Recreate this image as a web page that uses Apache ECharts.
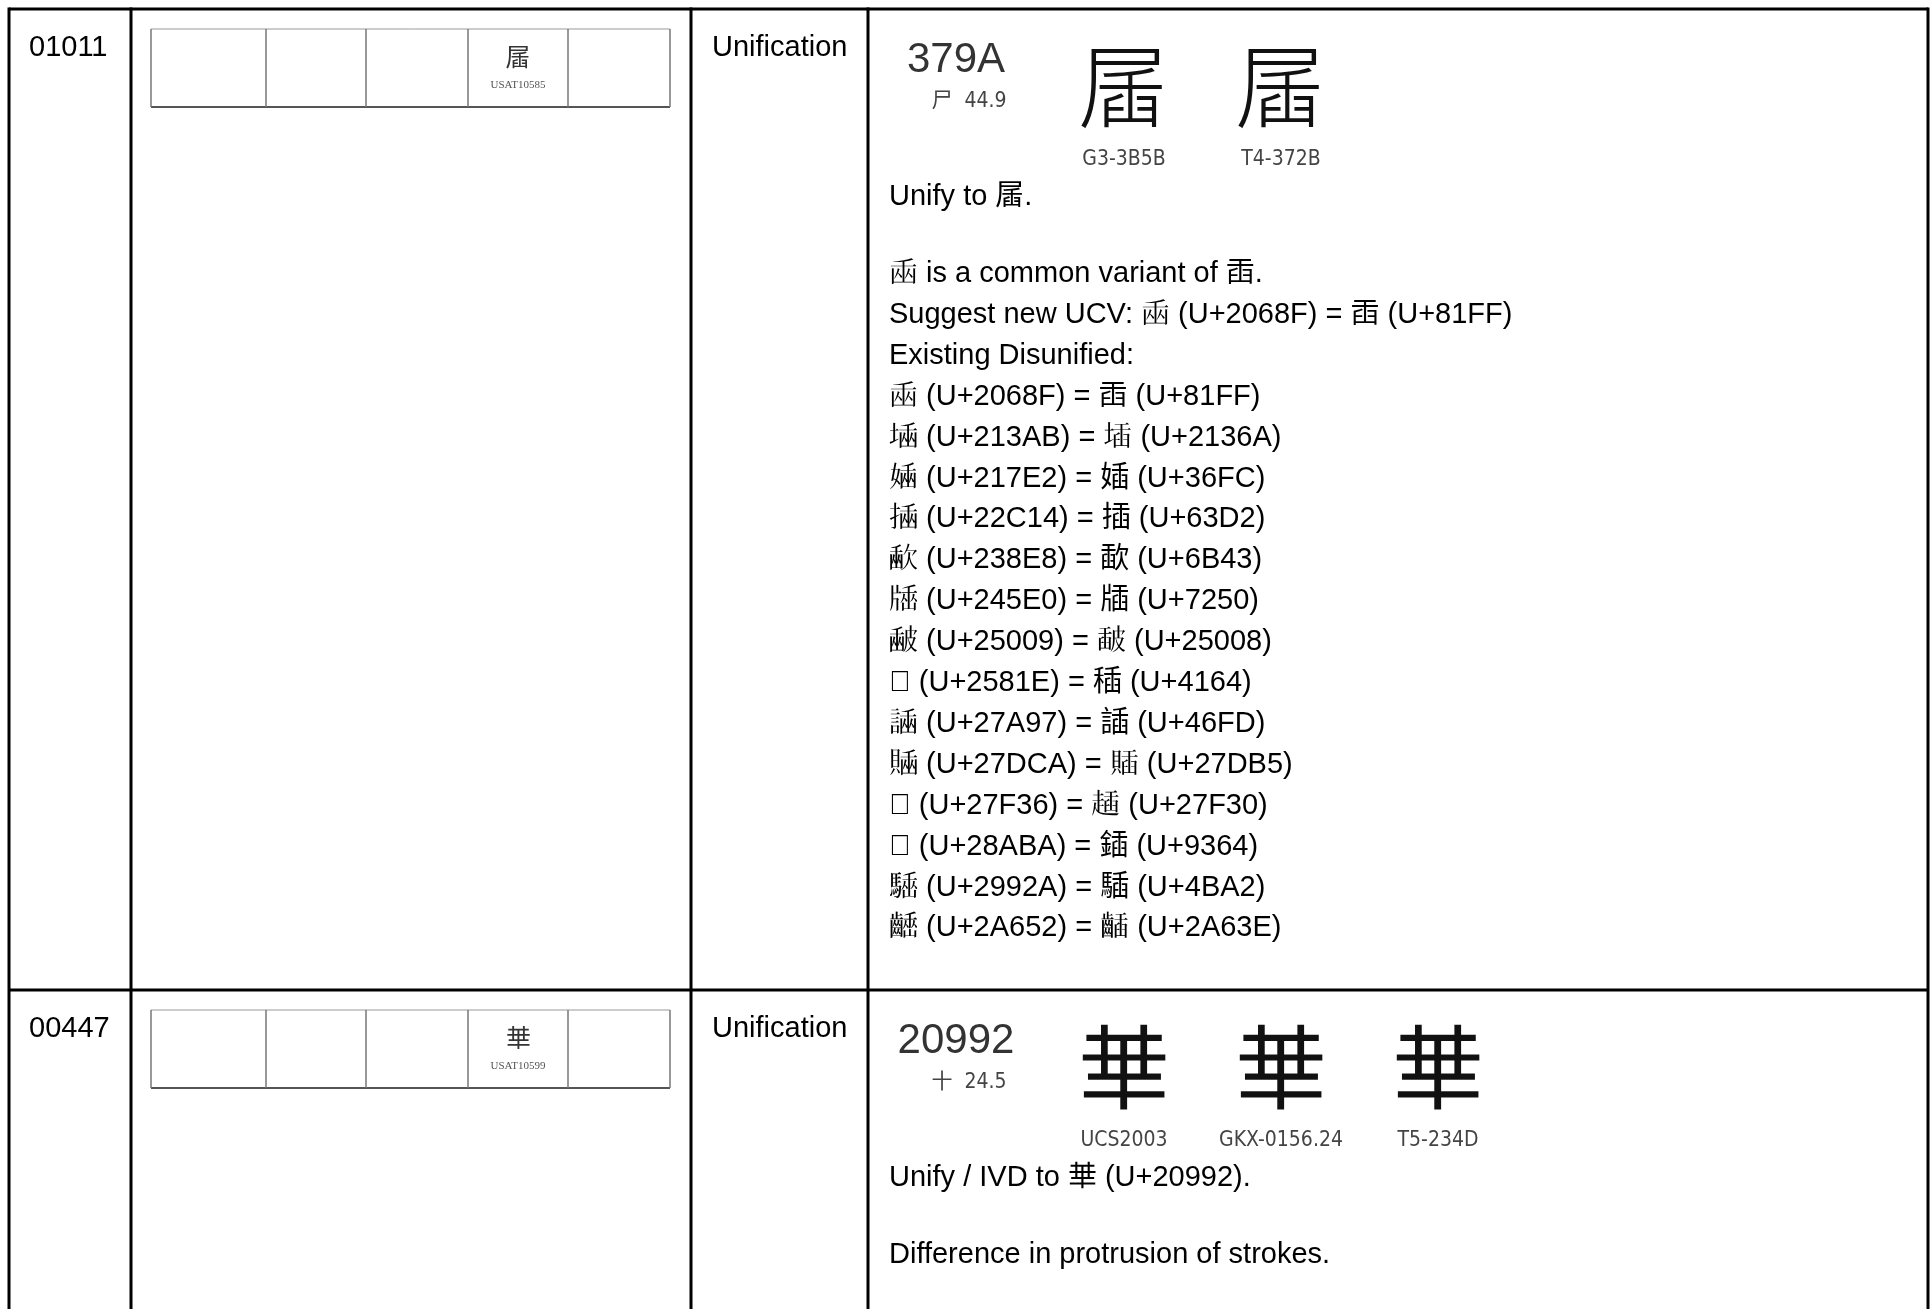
<!DOCTYPE html>
<html><head><meta charset="utf-8">
<script src="https://cdn.jsdelivr.net/npm/echarts@6/dist/echarts.min.js"></script>
<style>html,body{margin:0;padding:0;background:#fff}#c{width:1931px;height:1309px}</style>
</head><body><div id="c"></div>
<script>
// ---------------- content ----------------
const rowIds = ['01011', '00447'];
const rowTypes = ['Unification', 'Unification'];
const usatIds = ['USAT10585', 'USAT10599'];
const usatGlyphCodes = [0x379A, 0x20992];
const headCodes = ['379A', '20992'];
const headRadicals = ['尸', '十'];
const headStrokes = ['44.9', '24.5'];
const sourceLabels = [['G3-3B5B', 'T4-372B'], ['UCS2003', 'GKX-0156.24', 'T5-234D']];
const verdictTargets = [0x379A, 0x20992];
const verdictTemplates = ['Unify to {c}.', 'Unify / IVD to {c} (U+20992).'];
const variantPair = [0x2068F, 0x81FF];
const disunifiedPairs = [
  [0x2068F, 0x81FF], [0x213AB, 0x2136A], [0x217E2, 0x36FC], [0x22C14, 0x63D2],
  [0x238E8, 0x6B43], [0x245E0, 0x7250], [0x25009, 0x25008], [0x2581E, 0x4164],
  [0x27A97, 0x46FD], [0x27DCA, 0x27DB5], [0x27F36, 0x27F30], [0x28ABA, 0x9364],
  [0x2992A, 0x4BA2], [0x2A652, 0x2A63E]
];
const row2Notes = ['Difference in protrusion of strokes.'];
const usatCellCount = 5;
const usatFilledCell = 3;

// ---------------- helpers ----------------
const ch = c => String.fromCodePoint(c);
const hex = c => 'U+' + c.toString(16).toUpperCase();
const pairLine = p => ch(p[0]) + ' (' + hex(p[0]) + ') = ' + ch(p[1]) + ' (' + hex(p[1]) + ')';
const row1Notes = [
  ch(variantPair[0]) + ' is a common variant of ' + ch(variantPair[1]) + '.',
  'Suggest new UCV: ' + pairLine(variantPair),
  'Existing Disunified:'
].concat(disunifiedPairs.map(pairLine));
const notes = [row1Notes, row2Notes];

// ---------------- layout ----------------
const W = 1931, H = 1309;
const colX = [9, 131, 691, 868, 1928];
const rowTop = [9, 990];
const tableBottom = H + 20;
const cellDiv = [151, 266, 366, 468, 568, 670];

const LAT = '"Liberation Sans", Arial';
const CJK = '"Noto Sans CJK TC", "Noto Sans CJK SC", "Noto Sans CJK JP", sans-serif';
const FONT_BODY = '29px ' + LAT + ', ' + CJK;
const FONT_CODE = '42px ' + LAT + ', sans-serif';
const FONT_SMALL = '21px "Liberation Sans Narrow", "DejaVu Sans Condensed", "Liberation Sans", ' + CJK;
const FONT_BIG = '300 92px ' + CJK;
const FONT_USAT_G = '25px ' + CJK;
const FONT_USAT_ID = '11px "Liberation Serif", serif';

const texts = [];
const add = (x, y, text, font, fill, align) => texts.push({x, y, text, font, fill, align: align || 'left'});

rowIds.forEach((id, r) => {
  const t = rowTop[r];
  add(29, t + 39, id, FONT_BODY, '#000');
  add(712, t + 39, rowTypes[r], FONT_BODY, '#000');
  const gx = (cellDiv[usatFilledCell] + cellDiv[usatFilledCell + 1]) / 2;
  add(gx, t + 47, ch(usatGlyphCodes[r]), FONT_USAT_G, '#333', 'center');
  add(gx, t + 76, usatIds[r], FONT_USAT_ID, '#555', 'center');
  add(956, t + 51, headCodes[r], FONT_CODE, '#333', 'center');
  add(969, t + 93, headRadicals[r] + '  ' + headStrokes[r], FONT_SMALL, '#444', 'center');
  sourceLabels[r].forEach((lab, k) => {
    const cx = 1124 + k * 157;
    add(cx, t + 77, ch(usatGlyphCodes[r]), FONT_BIG, '#111', 'center');
    add(cx, t + 151, lab, FONT_SMALL, '#444', 'center');
  });
  const vy = t + 188;
  add(889, vy, verdictTemplates[r].replace('{c}', ch(verdictTargets[r])), FONT_BODY, '#000');
  notes[r].forEach((line, i) => add(889, vy + 77 + i * 40.9, line, FONT_BODY, '#000'));
});

const rules = [];
rules.push([colX[0], rowTop[0], colX[4], rowTop[0], 3, '#000']);
rules.push([colX[0], rowTop[1], colX[4], rowTop[1], 3, '#000']);
colX.forEach(x => rules.push([x, rowTop[0] - 1.5, x, tableBottom, 3, '#000']));
rowTop.forEach(t => {
  const y0 = t + 20, y1 = t + 98;
  rules.push([cellDiv[0], y0, cellDiv[cellDiv.length - 1], y0, 1, '#999']);
  rules.push([cellDiv[0], y1, cellDiv[cellDiv.length - 1], y1, 2, '#555']);
  cellDiv.forEach(x => rules.push([x, y0, x, y1, 1.5, '#777']));
});

const chart = echarts.init(document.getElementById('c'), null, {renderer: 'canvas'});
chart.setOption({
  animation: false,
  backgroundColor: '#fff',
  grid: {left: 0, right: 0, top: 0, bottom: 0},
  xAxis: {type: 'value', min: 0, max: W, show: false},
  yAxis: {type: 'value', min: 0, max: H, inverse: true, show: false},
  series: [
    {
      type: 'custom',
      clip: false,
      silent: true,
      data: rules.map(r => [r[0], r[1], r[2], r[3]]),
      renderItem: (params, api) => {
        const r = rules[params.dataIndex];
        const p1 = api.coord([api.value(0), api.value(1)]);
        const p2 = api.coord([api.value(2), api.value(3)]);
        return {type: 'line', shape: {x1: p1[0], y1: p1[1], x2: p2[0], y2: p2[1]},
                style: {stroke: r[5], lineWidth: r[4]}};
      }
    },
    {
      type: 'custom',
      clip: false,
      silent: true,
      data: texts.map(t => [t.x, t.y]),
      renderItem: (params, api) => {
        const t = texts[params.dataIndex];
        const p = api.coord([api.value(0), api.value(1)]);
        return {type: 'text', x: p[0], y: p[1],
                style: {text: t.text, font: t.font, fill: t.fill, align: t.align, verticalAlign: 'middle'}};
      }
    }
  ]
});
</script></body></html>
